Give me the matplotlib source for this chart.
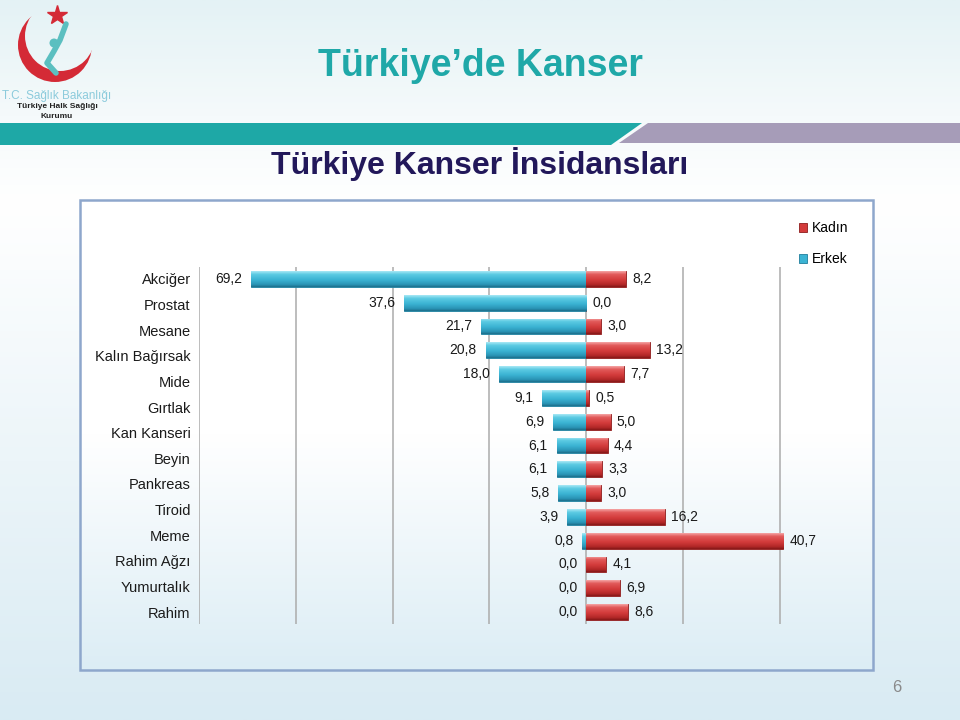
import numpy as np
import matplotlib
matplotlib.use('Agg')
import matplotlib.pyplot as plt
from matplotlib.colors import LinearSegmentedColormap
from matplotlib.patches import Rectangle, Circle, Polygon

plt.rcParams['font.family'] = ['Liberation Sans', 'DejaVu Sans']

# data (per 100.000)
categories = ['Akciğer', 'Prostat', 'Mesane', 'Kalın Bağırsak', 'Mide', 'Gırtlak',
              'Kan Kanseri', 'Beyin', 'Pankreas', 'Tiroid', 'Meme', 'Rahim Ağzı',
              'Yumurtalık', 'Rahim']
erkek = [69.2, 37.6, 21.7, 20.8, 18.0, 9.1, 6.9, 6.1, 6.1, 5.8, 3.9, 0.8, 0.0, 0.0, 0.0]
kadin = [8.2, 0.0, 3.0, 13.2, 7.7, 0.5, 5.0, 4.4, 3.3, 3.0, 16.2, 40.7, 4.1, 6.9, 8.6]
xticks = [-80, -60, -40, -20, 0, 20, 40]

fig = plt.figure(figsize=(9.6, 7.2), dpi=100)

# slide background, pixel coordinates
bg = fig.add_axes([0, 0, 1, 1], zorder=0)
bg.axis('off')
bg_cmap = LinearSegmentedColormap.from_list('bg', [(0, '#e4f2f5'), (0.16, '#f5fafb'),
                                                   (0.28, '#ffffff'), (1, '#d9ebf3')])
bg_grad = np.linspace(0, 1, 256).reshape(-1, 1)
bg.imshow(bg_grad, cmap=bg_cmap, aspect='auto', extent=[0, 960, 720, 0], zorder=0)

# header band
bg.add_patch(Polygon([[0, 123], [642, 123], [611, 145], [0, 145]], closed=True,
                     color='#1ea8a6', lw=0, zorder=1))
bg.add_patch(Polygon([[648, 123], [960, 123], [960, 143], [619, 143]], closed=True,
                     color='#a69cb8', lw=0, zorder=1))

# logo: crescent = red disc with a piece of background laid over it
bg.add_patch(Circle((55, 45), 37, color='#d42a36', lw=0, zorder=1))
cut = Circle((60, 36), 35, transform=bg.transData)
patch_bg = bg.imshow(bg_grad, cmap=bg_cmap, aspect='auto', extent=[0, 960, 720, 0],
                     zorder=1.2)
patch_bg.set_clip_path(cut)
bg.plot([57], [15], marker='*', ms=15, color='#d42a36', zorder=2)
bg.add_patch(Circle((54, 43), 4.5, color='#5bbfc0', lw=0, zorder=2))
bg.plot([66, 60, 54, 47, 56], [24, 40, 51, 63, 73], color='#5bbfc0', lw=4,
        solid_capstyle='round', zorder=2)
bg.text(57, 96, 'T.C. Sağlık Bakanlığı', ha='center', va='center', fontsize=8.5,
        color='#8ccbdc', zorder=2)
bg.text(57, 107, 'Türkiye Halk Sağlığı', ha='center', va='center', fontsize=6,
        color='#222222', fontweight='bold', zorder=2)
bg.text(57, 117, 'Kurumu', ha='center', va='center', fontsize=6,
        color='#222222', fontweight='bold', zorder=2)

bg.text(480, 66, 'Türkiye’de Kanser', ha='center', va='center', fontsize=27,
        fontweight='bold', color='#1fa8a8', zorder=2)
bg.text(480, 164, 'Türkiye Kanser İnsidansları', ha='center', va='center', fontsize=23,
        fontweight='bold', color='#22185a', zorder=2)
bg.text(897, 687, '6', ha='center', va='center', fontsize=12, color='#8a8a8a', zorder=2)

# chart box
box_cmap = LinearSegmentedColormap.from_list('box', ['#ffffff', '#ffffff', '#dcedf5'])
bg.imshow(bg_grad, cmap=box_cmap, aspect='auto', extent=[80, 873, 670, 200], zorder=1)
bg.add_patch(Rectangle((80, 200), 793, 470, fill=False, ec='#8ea7cc', lw=1.8, zorder=2))
bg.set_xlim(0, 960)
bg.set_ylim(720, 0)

# chart
xmax = 41
ax = fig.add_axes([199 / 960, 1 - 624 / 720, (581 + 4.84 * (xmax - 40)) / 960, 357 / 720],
                  zorder=2)
ax.patch.set_alpha(0)
y = np.arange(len(erkek))
blue_cmap = LinearSegmentedColormap.from_list('b', [(0, '#a8e8f5'), (0.2, '#5ccbe3'),
                                                    (0.55, '#3bb3d3'), (0.85, '#2a94b5'),
                                                    (1, '#1c6f8c')])
red_cmap = LinearSegmentedColormap.from_list('r', [(0, '#f5a5a5'), (0.2, '#e25a5a'),
                                                   (0.55, '#d33b3b'), (0.85, '#b32828'),
                                                   (1, '#861818')])
h = 0.66
eb = ax.barh(y, [-v for v in erkek], height=h, color='#3bb3d3', ec='#1f7e9c', lw=0.6,
             label='Erkek', zorder=3)
kb = ax.barh(y, kadin, height=h, color='#d33b3b', ec='#8e1c1c', lw=0.6,
             label='Kadın', zorder=3)
grad = np.linspace(0, 1, 64).reshape(-1, 1)
for bars, cm in [(eb, blue_cmap), (kb, red_cmap)]:
    for b in bars:
        if b.get_width() == 0:
            continue
        x0, x1 = sorted([b.get_x(), b.get_x() + b.get_width()])
        im = ax.imshow(grad, cmap=cm, aspect='auto', origin='upper',
                       extent=[x0, x1, b.get_y() + b.get_height(), b.get_y()], zorder=3.5)
        im.set_clip_path(b)

for i, v in enumerate(erkek):
    ax.annotate(f'{v:.1f}'.replace('.', ','), (-v, i), xytext=(-6.5, 0),
                textcoords='offset points', ha='right', va='center', fontsize=10,
                color='#1a1a1a', zorder=5, annotation_clip=False)
for i, v in enumerate(kadin):
    ax.annotate(f'{v:.1f}'.replace('.', ','), (v, i), xytext=(4.5, 0),
                textcoords='offset points', ha='left', va='center', fontsize=10,
                color='#1a1a1a', zorder=5, annotation_clip=False)

ax.set_xlim(xticks[0], xmax)
ax.set_ylim(len(erkek) - 0.5, -0.5)
ax.set_xticks(xticks)
ax.set_xticklabels([])
ax.tick_params(axis='x', length=0)
ax.grid(axis='x', color='#ababab', lw=1.1, zorder=0)
ax.set_yticks(np.linspace(0, len(erkek) - 1, len(categories)))
ax.set_yticklabels(categories, fontsize=10.5, color='#1a1a1a')
ax.tick_params(axis='y', length=0, pad=6)
for s in ax.spines.values():
    s.set_visible(False)

leg = ax.legend(handles=[kb, eb], labels=['Kadın', 'Erkek'], loc='upper left',
                bbox_to_anchor=(799 / 960, 1 - 221 / 720), bbox_transform=fig.transFigure,
                frameon=False, fontsize=10, handlelength=0.6, handleheight=0.6,
                handletextpad=0.3, labelspacing=1.25, borderaxespad=0, borderpad=0)

fig.savefig('out.png', dpi=100)
